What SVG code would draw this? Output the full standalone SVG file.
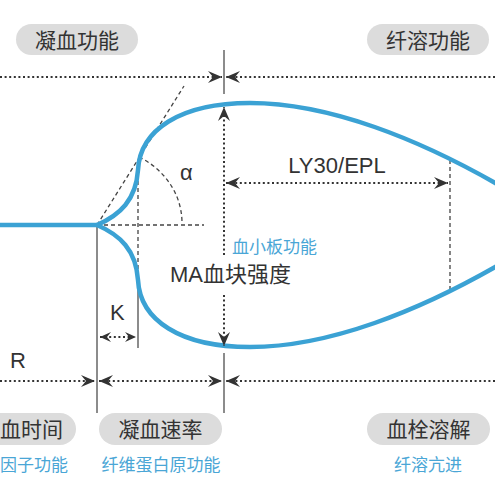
<svg xmlns="http://www.w3.org/2000/svg" width="495" height="495" viewBox="0 0 495 495">
<style>
.pill{fill:#dcdcdc}
.pt{font-family:"Liberation Sans","Noto Sans CJK SC",sans-serif;font-size:21px;fill:#333;text-anchor:middle}
.bt{font-family:"Noto Sans CJK SC",sans-serif;font-size:17px;fill:#4aa6d6;text-anchor:middle}
.lt{font-family:"Liberation Sans","Noto Sans CJK SC",sans-serif;font-size:22px;fill:#333}
.curve{fill:none;stroke:#3ba2d4;stroke-width:4.5;stroke-linecap:round}
.dot{fill:none;stroke:#333;stroke-width:2;stroke-dasharray:2 2.6}
.dash{fill:none;stroke:#444;stroke-width:1.3;stroke-dasharray:4 3}
.solid{fill:none;stroke:#666;stroke-width:1.5}
</style>
<defs>
<marker id="ah" viewBox="0 0 14 12" refX="14" refY="6" markerWidth="14" markerHeight="12" markerUnits="userSpaceOnUse" orient="auto-start-reverse"><path d="M0,0 L14,6 L0,12 L5,6 z" fill="#333"/></marker>
<marker id="ahs" viewBox="0 0 11 10" refX="11" refY="5" markerWidth="11" markerHeight="10" markerUnits="userSpaceOnUse" orient="auto-start-reverse"><path d="M0,0 L11,5 L0,10 L4,5 z" fill="#333"/></marker>
</defs>

<g id="connectors">
<line class="solid" x1="224" y1="50" x2="224" y2="94"/>
<line class="solid" x1="97" y1="225" x2="97" y2="413"/>
<line class="solid" x1="138" y1="290" x2="138" y2="348"/>
<line class="solid" x1="224" y1="353" x2="224" y2="413"/>
<line class="dash" x1="97" y1="225" x2="184" y2="86"/>
<line class="dash" x1="97" y1="225" x2="204" y2="225"/>
<path class="dash" d="M139,157 C162,168 182,192 182,223"/>
<line class="dash" x1="138" y1="160" x2="138" y2="290"/>
<line class="dash" x1="450" y1="160" x2="450" y2="290" stroke="#555"/>
<path class="curve" d="M0,225 L97,225 C120,215 136,200 138,170 C140,130 180,103 250,103 C330,103 420,140 497,184"/>
<path class="curve" d="M97,225 C120,235 136,250 138,280 C140,320 180,347 250,347 C330,347 420,310 497,266"/>
<line class="dot" x1="0" y1="77" x2="222" y2="77" marker-end="url(#ah)"/>
<line class="dot" x1="495" y1="77" x2="226" y2="77" marker-end="url(#ah)"/>
<line class="dot" x1="0" y1="381" x2="95" y2="381" marker-end="url(#ah)"/>
<line class="dot" x1="99" y1="381" x2="222" y2="381" marker-start="url(#ah)" marker-end="url(#ah)"/>
<line class="dot" x1="495" y1="381" x2="226" y2="381" marker-end="url(#ah)"/>
<line class="dot" x1="224" y1="255" x2="224" y2="107" marker-end="url(#ah)"/>
<line class="dot" x1="224" y1="295" x2="224" y2="346" marker-end="url(#ah)"/>
<line class="dot" x1="226" y1="183" x2="448" y2="183" marker-start="url(#ah)" marker-end="url(#ah)"/>
<line class="dot" x1="100" y1="337" x2="136" y2="337" marker-start="url(#ahs)" marker-end="url(#ahs)"/>
</g>

<g id="coag-function">
<rect class="pill" x="16" y="24" width="122" height="31" rx="15.5"/>
<text class="pt" x="77" y="48">凝血功能</text>
</g>
<g id="fibrinolysis-function">
<rect class="pill" x="367" y="24" width="122" height="31" rx="15.5"/>
<text class="pt" x="428" y="48">纤溶功能</text>
</g>
<g id="clot-time">
<rect class="pill" x="-47" y="413" width="123" height="32" rx="16"/>
<text class="pt" x="0" y="437" style="text-anchor:start">血时间</text>
<text class="bt" x="0" y="471" style="text-anchor:start">因子功能</text>
</g>
<g id="clot-rate">
<rect class="pill" x="99" y="413" width="123" height="32" rx="16"/>
<text class="pt" x="160.5" y="437">凝血速率</text>
<text class="bt" x="161" y="471">纤维蛋白原功能</text>
</g>
<g id="lysis">
<rect class="pill" x="367" y="413" width="123" height="32" rx="16"/>
<text class="pt" x="428.5" y="437">血栓溶解</text>
<text class="bt" x="428" y="471">纤溶亢进</text>
</g>
<g id="labels">
<text class="lt" x="180" y="180">α</text>
<text class="lt" x="337" y="173" style="text-anchor:middle">LY30/EPL</text>
<text class="bt" x="232" y="253" style="text-anchor:start">血小板功能</text>
<text class="lt" x="170" y="282">MA血块强度</text>
<text class="lt" x="110" y="320">K</text>
<text class="lt" x="10" y="368">R</text>
</g>
</svg>
